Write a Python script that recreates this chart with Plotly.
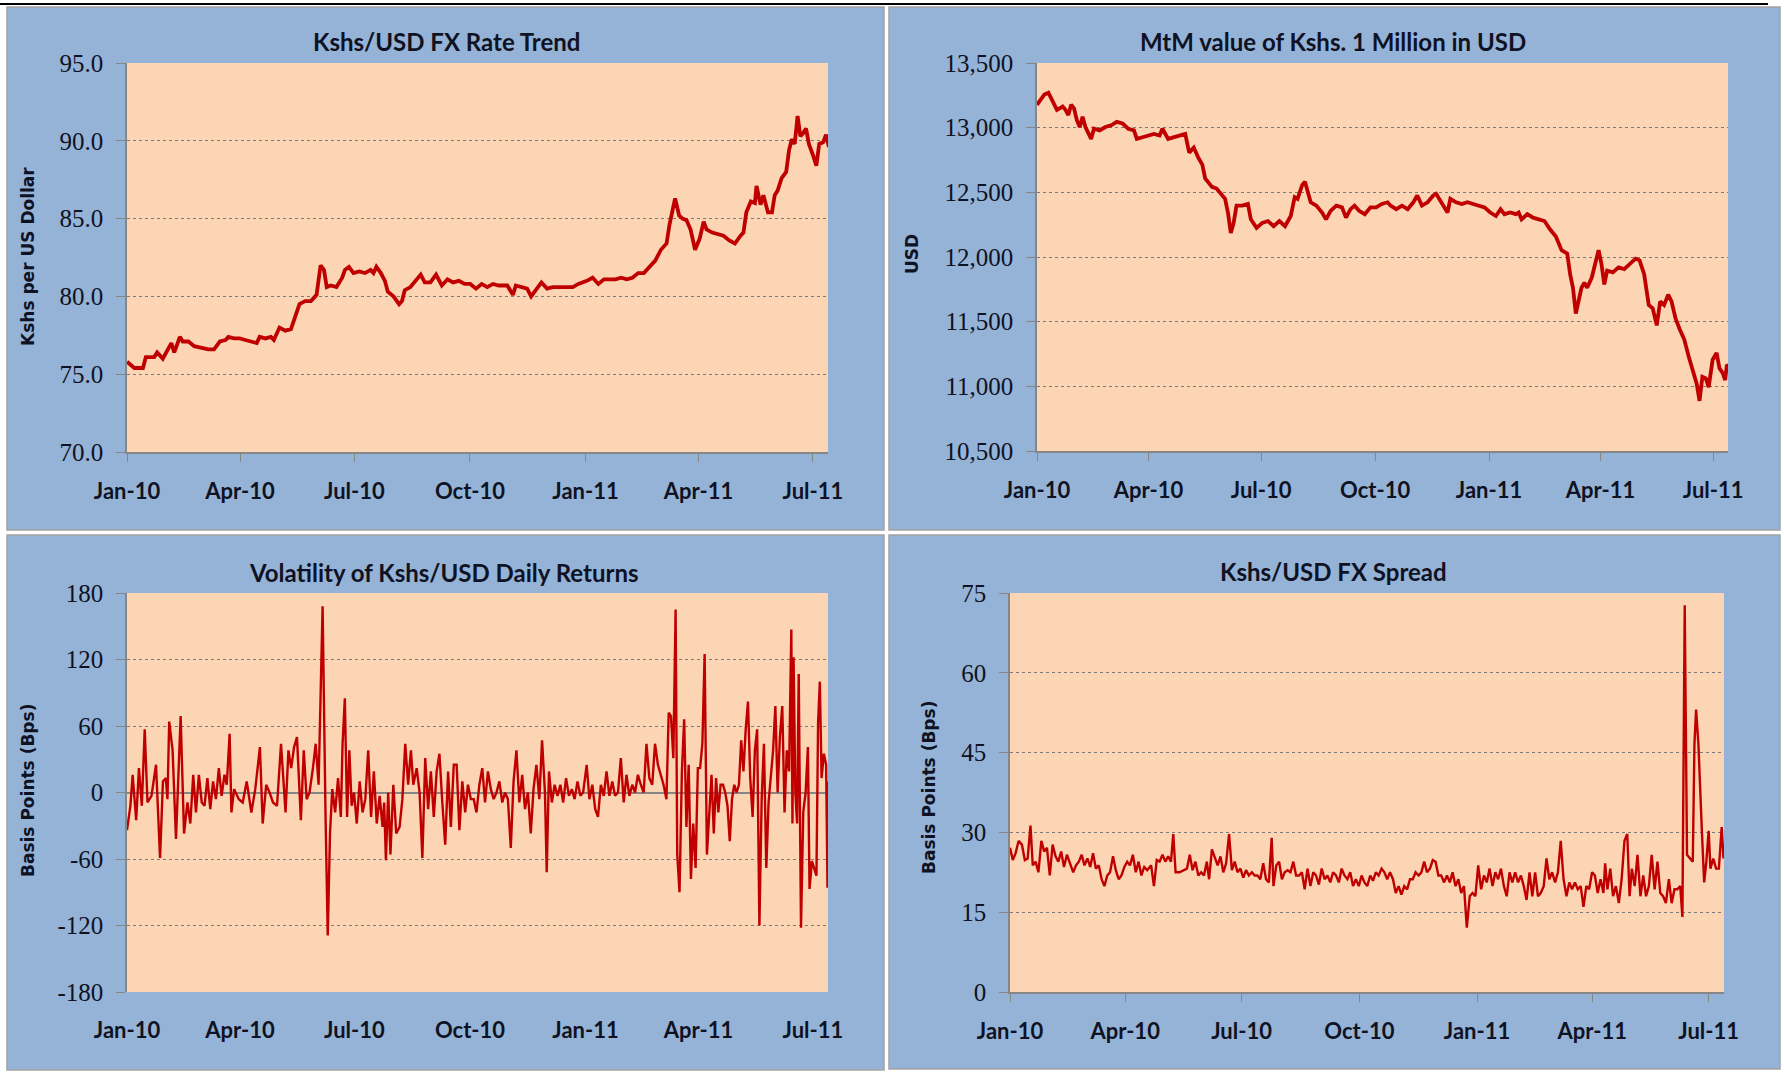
import plotly.graph_objects as go
from datetime import datetime, timedelta

# ---------------- data (days counted from 2010-01-01) ----------------
BASE = datetime(2010, 1, 1)

rate_day = [0, 5.9, 12.7, 15.0, 21.7, 24.0, 28.5, 33.1, 35.3, 37.6,
            42.1, 44.4, 48.9, 53.5, 58.0, 64.8, 69.3, 73.9, 78.4, 80.7,
            85.2, 89.7, 94.2, 98.8, 103.3, 105.6, 110.1, 114.6, 116.9, 121.4,
            126.0, 130.5, 132.8, 135.0, 137.3, 141.8, 146.4, 150.9, 154.1, 156.8,
            159.0, 162.2, 166.7, 171.3, 173.5, 176.7, 180.3, 184.9, 189.4, 193.9,
            196.2, 198.5, 202.1, 205.3, 207.6, 212.1, 216.6, 218.9, 221.1, 225.6,
            230.2, 233.8, 237.0, 241.5, 246.0, 250.6, 255.1, 259.6, 264.2, 268.7,
            273.2, 277.8, 282.3, 286.8, 291.3, 295.9, 302.7, 307.2, 309.5, 314.0,
            318.5, 321.7, 325.3, 329.9, 334.4, 338.9, 345.7, 350.2, 354.8, 359.3,
            366.1, 370.6, 375.2, 379.7, 384.2, 388.8, 393.3, 397.8, 402.3, 406.9,
            411.4, 415.9, 420.5, 425.0, 429.5, 431.8, 434.1, 436.3, 439.5, 442.2,
            445.4, 448.6, 452.2, 455.8, 459.0, 461.3, 465.8, 470.3, 474.8, 479.4,
            483.9, 488.4, 490.7, 493.0, 496.6, 499.8, 501.1, 504.3, 506.6, 510.2,
            513.4, 515.6, 517.9, 521.1, 524.7, 527.0, 529.2, 531.5, 533.8, 536.0,
            538.3, 540.5, 542.8, 546.4, 548.7, 551.0, 554.1, 556.4, 558.7]
rate_val = [75.8, 75.4, 75.4, 76.1, 76.1, 76.4, 76.0, 76.6, 77.0, 76.4,
            77.4, 77.1, 77.1, 76.8, 76.7, 76.6, 76.6, 77.1, 77.2, 77.4,
            77.3, 77.3, 77.2, 77.1, 77.0, 77.4, 77.3, 77.4, 77.2, 78.0,
            77.8, 77.9, 78.4, 78.9, 79.5, 79.7, 79.7, 80.1, 82.0, 81.7,
            80.6, 80.7, 80.6, 81.2, 81.7, 81.9, 81.5, 81.6, 81.5, 81.7,
            81.5, 81.9, 81.5, 81.0, 80.3, 80.0, 79.5, 79.7, 80.4, 80.6,
            81.0, 81.4, 80.9, 80.9, 81.4, 80.7, 81.1, 80.9, 81.0, 80.8,
            80.8, 80.5, 80.8, 80.6, 80.8, 80.7, 80.7, 80.1, 80.7, 80.6,
            80.5, 80.0, 80.4, 80.9, 80.5, 80.6, 80.6, 80.6, 80.6, 80.8,
            81.0, 81.2, 80.8, 81.1, 81.1, 81.1, 81.2, 81.1, 81.2, 81.5,
            81.5, 81.9, 82.3, 83.0, 83.4, 84.6, 85.4, 86.3, 85.2, 85.0,
            84.9, 84.3, 83.0, 83.7, 84.8, 84.3, 84.1, 84.0, 83.9, 83.6,
            83.4, 83.9, 84.1, 85.4, 86.1, 86.0, 87.1, 85.9, 86.5, 85.4,
            85.4, 86.5, 86.8, 87.6, 88.0, 89.4, 90.1, 89.8, 91.6, 90.3,
            90.5, 90.8, 89.8, 89.0, 88.4, 89.8, 89.9, 90.4, 89.6]

mtm_day = [0, 3.2, 6.0, 9.2, 11.5, 13.8, 16.1, 18.4, 20.7, 23.0,
           25.3, 27.6, 29.9, 32.2, 34.5, 36.8, 39.1, 43.7, 46.0, 50.6,
           55.2, 59.9, 64.5, 69.1, 73.7, 78.3, 80.6, 85.2, 89.8, 94.4,
           99.0, 101.3, 105.9, 110.5, 115.1, 119.7, 122.9, 126.6, 130.3, 133.5,
           135.8, 138.1, 141.3, 145.0, 148.7, 151.9, 154.2, 156.5, 158.8, 161.1,
           165.7, 170.3, 172.7, 177.3, 181.9, 186.5, 191.1, 195.7, 200.3, 204.9,
           208.1, 210.4, 214.1, 216.4, 218.7, 221.0, 225.6, 230.2, 233.4, 237.1,
           241.7, 246.3, 249.5, 253.2, 256.4, 260.1, 264.7, 269.3, 273.9, 278.5,
           283.1, 285.5, 290.1, 294.7, 299.3, 303.9, 307.1, 310.8, 315.4, 320.0,
           322.3, 326.9, 331.5, 333.8, 338.4, 343.0, 347.6, 352.2, 356.8, 361.4,
           366.0, 370.6, 374.3, 377.5, 382.1, 386.7, 389.0, 391.3, 395.9, 400.6,
           405.2, 409.8, 414.4, 419.0, 423.6, 428.2, 430.5, 432.8, 435.1, 437.4,
           439.7, 442.0, 444.3, 448.0, 451.2, 453.5, 455.8, 458.1, 460.4, 465.0,
           469.6, 474.2, 478.8, 483.4, 486.6, 490.3, 494.0, 497.2, 500.5, 503.2,
           506.4, 509.7, 512.4, 515.7, 518.9, 522.6, 526.2, 529.5, 532.7, 535.0,
           537.3, 540.1, 542.4, 545.6, 548.8, 551.1, 553.9, 555.7, 557.1, 558.5]
mtm_val = [13177, 13217, 13257, 13270, 13230, 13190, 13138, 13150, 13164, 13138,
           13098, 13177, 13150, 13058, 13005, 13085, 13005, 12913, 12992, 12979,
           13005, 13018, 13045, 13032, 12992, 12979, 12913, 12926, 12939, 12952,
           12939, 12992, 12913, 12926, 12939, 12952, 12807, 12846, 12767, 12714,
           12608, 12582, 12542, 12529, 12489, 12450, 12344, 12185, 12264, 12397,
           12397, 12410, 12291, 12225, 12264, 12278, 12238, 12278, 12238, 12317,
           12463, 12450, 12555, 12582, 12503, 12423, 12397, 12344, 12291, 12357,
           12397, 12384, 12304, 12370, 12397, 12357, 12331, 12384, 12384, 12410,
           12423, 12397, 12370, 12397, 12370, 12423, 12476, 12397, 12423, 12476,
           12489, 12423, 12344, 12450, 12423, 12410, 12423, 12410, 12397, 12384,
           12344, 12317, 12370, 12331, 12344, 12331, 12344, 12291, 12331, 12304,
           12291, 12278, 12212, 12159, 12053, 12026, 11867, 11762, 11563, 11682,
           11762, 11801, 11762, 11841, 11974, 12053, 11947, 11788, 11894, 11881,
           11920, 11907, 11947, 11987, 11974, 11867, 11629, 11603, 11471, 11656,
           11629, 11709, 11656, 11523, 11444, 11365, 11232, 11127, 11021, 10888,
           11074, 11061, 10994, 11206, 11259, 11140, 11100, 11048, 11167, 11153]

vol_day = [0, 2.7, 4.5, 7.3, 9.5, 11.8, 14.1, 16.3, 19.5, 23.1,
           26.3, 28.6, 30.9, 32.2, 33.6, 36.3, 39.0, 42.7, 45.4, 48.1,
           50.4, 52.7, 54.9, 57.2, 59.5, 61.7, 64.0, 66.3, 68.5, 70.8,
           73.1, 75.3, 77.6, 79.4, 81.7, 83.1, 85.3, 89.0, 92.1, 95.3,
           99.0, 102.1, 105.8, 108.0, 110.8, 113.5, 116.2, 119.4, 122.6, 126.2,
           128.5, 130.7, 133.0, 135.3, 138.4, 140.7, 143.0, 145.3, 148.0, 150.2,
           152.5, 155.7, 158.0, 159.8, 161.6, 163.4, 165.7, 168.0, 170.2, 171.6,
           173.4, 175.2, 177.0, 178.8, 180.7, 182.9, 185.2, 187.5, 189.7, 192.0,
           194.3, 196.5, 198.8, 201.1, 203.4, 204.7, 206.1, 207.9, 209.7, 212.0,
           214.3, 217.0, 219.2, 221.5, 223.8, 226.0, 227.9, 230.6, 232.9, 235.1,
           237.4, 239.7, 241.9, 244.2, 246.5, 248.7, 251.0, 253.3, 255.6, 257.8,
           260.1, 262.4, 264.6, 266.9, 269.2, 271.4, 273.7, 276.0, 278.2, 280.5,
           282.8, 285.0, 287.3, 289.6, 291.9, 294.1, 296.4, 298.7, 300.9, 303.2,
           305.5, 307.7, 310.0, 312.3, 314.6, 316.8, 319.1, 321.4, 323.6, 325.9,
           328.2, 330.4, 332.7, 334.1, 335.9, 338.2, 340.4, 342.7, 345.0, 347.2,
           349.5, 351.8, 354.1, 356.3, 358.6, 360.9, 363.1, 365.9, 368.1, 370.4,
           372.7, 374.9, 377.2, 379.5, 381.7, 384.0, 386.3, 388.5, 390.8, 393.1,
           395.4, 397.6, 399.9, 402.2, 404.4, 406.7, 409.0, 411.3, 413.5, 415.8,
           418.1, 420.3, 422.6, 424.9, 427.1, 429.4, 431.2, 433.0, 434.9, 436.7,
           438.0, 439.8, 441.7, 443.5, 445.3, 447.1, 448.9, 450.7, 452.6, 454.4,
           456.2, 458.0, 459.8, 461.6, 463.5, 465.3, 467.1, 468.9, 470.7, 472.5,
           474.4, 476.2, 478.0, 479.8, 481.6, 483.4, 485.2, 487.1, 488.9, 490.7,
           492.5, 494.3, 496.1, 498.0, 499.8, 501.6, 503.4, 505.2, 507.0, 508.9,
           510.7, 512.5, 514.3, 516.1, 517.9, 519.7, 521.6, 523.4, 525.2, 527.0,
           528.8, 529.7, 530.6, 532.0, 533.4, 534.7, 536.5, 538.3, 540.2, 542.0,
           543.3, 545.2, 547.0, 548.8, 550.1, 551.5, 552.9, 554.7, 556.5, 557.6,
           558.5]
vol_val = [-34, -12, 16, -25, 22, -12, 57, -9, -3, 25,
           -59, 10, 13, -6, 64, 38, -42, 69, -37, -9,
           -28, 16, -18, 16, -9, -12, 13, -15, 10, -6,
           22, -3, 16, 7, 53, -18, 3, -6, -9, 10,
           -18, 3, 41, -28, 7, 0, -9, -12, 44, -18,
           38, 22, 41, 50, -25, 38, -6, 0, 22, 44,
           7, 168, -18, -129, -37, 3, -18, 13, -22, 44,
           85, -22, 38, -12, 0, -28, 10, -18, -6, 38,
           -22, 19, -28, -3, -31, -9, -61, 0, -56, 7,
           -37, -31, -6, 44, 7, 38, 7, 22, 0, -59,
           31, -15, 19, -22, 19, 35, -9, -47, 19, -31,
           25, 25, -34, 10, -18, 7, -6, -6, -18, 7,
           22, -9, 19, 3, -6, 0, 10, -9, 0, -6,
           -50, 10, 38, -9, 16, -15, 0, -37, 3, 25,
           -6, 47, 0, -72, 19, -9, 7, -3, 7, -9,
           13, -3, 3, -6, 10, -3, 0, 25, -6, 7,
           -15, -22, 7, -3, 19, -3, 10, -3, 0, 31,
           -9, 16, -3, 7, 0, 16, 7, 0, 44, 13,
           7, 44, 25, 16, 7, -6, 72, 69, 31, 165,
           -56, -90, 19, 66, -31, 25, -78, -28, -68, 22,
           22, 44, 125, -56, -22, 16, -37, 13, -18, 7,
           7, 0, -12, -44, -6, 7, 0, 7, 47, 19,
           57, 82, 13, -22, 38, 57, -120, -6, 44, -68,
           -9, 13, 38, 78, 0, 50, 78, -18, 38, 19,
           147, -28, 122, 0, -28, 107, -122, -18, 0, 41,
           -87, -62, -68, -75, 63, 100, 13, 35, 25, -86,
           10]

spread_day = [0, 2.2, 4.4, 6.7, 9.3, 11.6, 13.8, 16.0, 17.8, 20.0,
              22.2, 24.5, 26.7, 28.9, 31.1, 33.3, 35.6, 37.8, 40.0, 42.2,
              44.5, 46.7, 49.4, 51.6, 53.8, 56.0, 58.2, 60.5, 62.7, 64.9,
              67.1, 69.4, 71.6, 73.8, 76.0, 78.2, 80.5, 82.7, 84.9, 87.1,
              89.4, 91.6, 93.8, 96.0, 98.3, 100.5, 102.7, 104.9, 107.2, 110.3,
              112.5, 114.7, 116.9, 119.2, 121.4, 123.6, 125.8, 127.6, 129.4, 132.5,
              135.6, 138.3, 140.5, 142.7, 144.9, 147.2, 149.4, 151.6, 153.8, 155.6,
              157.8, 160.1, 162.3, 164.5, 166.7, 168.9, 171.2, 173.4, 175.6, 177.8,
              180.1, 182.3, 184.5, 186.7, 189.0, 191.2, 193.4, 195.6, 197.9, 200.1,
              202.3, 204.5, 205.9, 208.1, 210.3, 212.5, 214.7, 217.0, 219.2, 221.4,
              223.6, 225.9, 228.1, 230.3, 232.5, 234.8, 237.0, 239.2, 241.4, 243.6,
              245.9, 248.1, 250.3, 252.5, 254.8, 257.0, 259.2, 261.4, 263.7, 265.9,
              268.1, 270.3, 272.6, 274.8, 277.0, 279.2, 281.5, 283.7, 285.9, 288.1,
              290.4, 292.6, 294.8, 297.0, 299.3, 301.5, 303.7, 305.9, 308.1, 310.4,
              312.6, 314.8, 317.0, 319.3, 321.5, 323.7, 325.9, 328.2, 330.4, 332.6,
              334.8, 337.0, 339.3, 341.5, 343.7, 345.9, 348.2, 350.4, 352.6, 354.8,
              357.0, 359.3, 361.5, 363.7, 365.9, 368.2, 370.4, 372.6, 374.8, 377.1,
              379.3, 381.5, 383.7, 386.0, 388.2, 390.4, 392.6, 394.8, 397.1, 399.3,
              401.5, 403.7, 406.0, 408.2, 410.4, 412.6, 414.8, 417.1, 419.3, 421.5,
              423.7, 426.0, 428.2, 430.4, 432.6, 434.9, 437.1, 439.3, 441.5, 443.7,
              446.0, 448.2, 450.4, 452.6, 454.9, 457.1, 459.3, 461.5, 463.8, 465.1,
              466.9, 469.1, 471.3, 473.5, 475.8, 478.0, 480.2, 482.4, 484.2, 486.0,
              488.2, 490.4, 492.7, 494.9, 497.1, 499.3, 501.5, 503.8, 506.0, 508.2,
              510.4, 512.6, 514.9, 517.1, 519.3, 521.5, 523.8, 525.5, 527.3, 529.1,
              531.3, 533.6, 534.9, 536.2, 538.0, 539.3, 540.7, 542.5, 544.2, 546.0,
              547.4, 549.6, 551.8, 554.0, 556.2, 557.6]
spread_val = [27.1, 24.8, 26.1, 28.4, 27.7, 24.8, 25.1, 31.3, 23.8, 24.5,
              22.5, 28.4, 26.4, 27.1, 21.9, 27.7, 25.5, 24.5, 26.4, 23.5,
              25.8, 24.2, 22.5, 23.8, 24.5, 25.8, 23.8, 25.1, 23.5, 26.1,
              23.2, 23.8, 21.2, 19.9, 21.9, 22.5, 25.5, 22.9, 21.2, 21.9,
              23.5, 24.5, 23.8, 25.8, 22.5, 24.5, 21.9, 23.5, 22.9, 23.8,
              19.9, 24.8, 24.5, 25.8, 24.5, 25.5, 24.5, 29.7, 22.5, 22.5,
              22.9, 23.2, 25.8, 22.9, 24.5, 21.9, 22.5, 21.9, 24.5, 21.2,
              26.8, 25.1, 23.8, 25.5, 22.5, 24.2, 29.7, 22.9, 24.5, 22.5,
              23.2, 21.5, 22.9, 21.9, 22.5, 21.9, 21.9, 21.2, 24.2, 21.2,
              20.6, 29.0, 19.9, 23.8, 24.5, 21.2, 22.5, 22.9, 22.5, 24.5,
              21.9, 21.9, 22.5, 19.3, 23.2, 19.9, 22.5, 21.9, 20.2, 23.2,
              21.2, 21.9, 20.6, 22.5, 21.9, 20.6, 23.2, 21.9, 21.2, 22.5,
              19.9, 21.2, 19.9, 21.9, 20.6, 19.9, 21.9, 20.9, 22.5, 21.9,
              23.2, 22.5, 21.2, 22.5, 21.2, 18.6, 19.9, 18.3, 19.9, 19.3,
              21.2, 21.2, 22.5, 21.9, 22.5, 24.5, 22.5, 23.2, 24.8, 24.5,
              21.9, 21.9, 20.6, 21.9, 20.6, 22.5, 19.9, 21.2, 18.6, 19.9,
              12.1, 18.0, 18.6, 18.0, 23.8, 19.3, 21.9, 20.6, 23.2, 19.9,
              22.5, 21.2, 23.2, 19.9, 18.0, 22.5, 20.6, 22.5, 20.6, 21.9,
              19.9, 17.3, 22.5, 18.0, 22.5, 18.0, 18.6, 19.9, 25.1, 21.2,
              22.5, 20.6, 22.5, 28.4, 21.2, 18.0, 20.6, 19.3, 20.6, 19.3,
              19.9, 16.0, 19.9, 19.3, 22.5, 21.9, 18.6, 21.2, 18.6, 24.2,
              19.3, 23.2, 18.0, 19.9, 16.7, 21.2, 28.4, 29.7, 18.0, 23.2,
              19.9, 25.8, 18.0, 21.9, 18.0, 19.9, 25.8, 19.3, 24.5, 18.6,
              18.0, 16.7, 21.2, 16.7, 19.3, 19.3, 19.9, 14.1, 72.7, 25.8,
              25.1, 24.5, 46.6, 53.1, 46.6, 37.5, 30.3, 20.6, 24.5, 30.3,
              23.2, 25.1, 23.2, 23.2, 31.0, 25.1]

titles = ["Kshs/USD FX Rate Trend", "MtM value of Kshs. 1 Million in USD",
          "Volatility of Kshs/USD Daily Returns", "Kshs/USD FX Spread"]
ytitles = ["Kshs per US Dollar", "USD", "Basis Points (Bps)", "Basis Points (Bps)"]

y1_ticks = [70, 75, 80, 85, 90, 95]
y2_ticks = [10500, 11000, 11500, 12000, 12500, 13000, 13500]
y3_ticks = [-180, -120, -60, 0, 60, 120, 180]
y4_ticks = [0, 15, 30, 45, 60, 75]
x_ticks = ["2010-01-01", "2010-04-01", "2010-07-01", "2010-10-01",
           "2011-01-01", "2011-04-01", "2011-07-01"]
x_ticktext = ["Jan-10", "Apr-10", "Jul-10", "Oct-10", "Jan-11", "Apr-11", "Jul-11"]
x_range = ["2010-01-01", "2011-07-13"]

series = [(rate_day, rate_val), (mtm_day, mtm_val), (vol_day, vol_val), (spread_day, spread_val)]
for d, v in series:
    assert len(d) == len(v), (len(d), len(v))

def to_dates(days):
    return [BASE + timedelta(days=x) for x in days]

# ---------------- layout geometry (pixels) ----------------
W, H = 1784, 1072
panel_px = [(7, 7, 884, 530), (889, 7, 1780, 530), (7, 535, 884, 1070), (889, 535, 1780, 1069)]
plot_px = [(127, 63, 828, 452), (1037, 63, 1728, 451), (127, 593, 828, 992), (1010, 593, 1724, 992)]
title_px = [(446, 41), (1333, 41), (444, 572), (1333, 571)]
ytitle_px = [(28, 257), (912, 254), (28, 791), (929, 788)]

fx = lambda x: x / W
fy = lambda y: 1 - y / H

RED = "#C00000"
GRID = "#7a7a7a"
AX = "#868686"
TXT = "#0f1222"
BLUE = "#95B3D7"
PEACH = "#FCD5B4"

fig = go.Figure()
widths = [3.8, 3.8, 2.4, 2.4]
for i, (d, v) in enumerate(series):
    n = i + 1
    fig.add_trace(go.Scatter(x=to_dates(d), y=v, mode="lines",
                             line=dict(color=RED, width=widths[i]),
                             xaxis=f"x{n}" if n > 1 else "x",
                             yaxis=f"y{n}" if n > 1 else "y",
                             showlegend=False, hoverinfo="skip"))

shapes = []
shapes.append(dict(type="line", xref="paper", yref="paper", x0=fx(0), x1=fx(1768),
                   y0=fy(4), y1=fy(4), line=dict(color="black", width=2), layer="below"))
for (x0, y0, x1, y1) in panel_px:
    shapes.append(dict(type="rect", xref="paper", yref="paper", x0=fx(x0), x1=fx(x1),
                       y0=fy(y1), y1=fy(y0), fillcolor=BLUE,
                       line=dict(color="#a3a3a3", width=1.5), layer="below"))
for (x0, y0, x1, y1) in plot_px:
    shapes.append(dict(type="rect", xref="paper", yref="paper", x0=fx(x0), x1=fx(x1),
                       y0=fy(y1), y1=fy(y0), fillcolor=PEACH, line=dict(width=0), layer="below"))

annotations = []
for (cx, cy), t in zip(title_px, titles):
    annotations.append(dict(text=t, x=fx(cx), y=fy(cy), xref="paper", yref="paper",
                            showarrow=False, xanchor="center", yanchor="middle",
                            font=dict(family="Lato", size=24, color=TXT, weight="bold")))
for (cx, cy), t in zip(ytitle_px, ytitles):
    annotations.append(dict(text=t, x=fx(cx), y=fy(cy), xref="paper", yref="paper",
                            showarrow=False, xanchor="center", yanchor="middle", textangle=-90,
                            font=dict(family="DejaVu Sans", size=17, color=TXT, weight="bold")))

layout = dict(width=W, height=H, margin=dict(l=0, r=0, t=0, b=0, pad=0, autoexpand=False),
              paper_bgcolor="white", plot_bgcolor="rgba(0,0,0,0)",
              shapes=shapes, annotations=annotations, showlegend=False)

yticks = [y1_ticks, y2_ticks, y3_ticks, y4_ticks]
ytext = [[f"{t:.1f}" for t in y1_ticks], [f"{t:,}" for t in y2_ticks],
         [str(t) for t in y3_ticks], [str(t) for t in y4_ticks]]

for i, (x0, y0, x1, y1) in enumerate(plot_px):
    n = i + 1
    xk = "xaxis" if n == 1 else f"xaxis{n}"
    yk = "yaxis" if n == 1 else f"yaxis{n}"
    is_vol = (n == 3)
    layout[xk] = dict(domain=[fx(x0), fx(x1)], anchor="y" if n == 1 else f"y{n}",
                      type="date", range=x_range, tickvals=x_ticks, ticktext=x_ticktext,
                      ticks="outside", ticklen=8,
                      tickcolor="rgba(0,0,0,0)" if is_vol else AX, tickwidth=1,
                      showline=not is_vol, linecolor=AX, linewidth=1.5, showgrid=False,
                      zeroline=False, ticklabelstandoff=11, automargin=False,
                      tickfont=dict(family="Lato", size=22, color=TXT, weight="bold"))
    tv = yticks[i]
    layout[yk] = dict(domain=[fy(y1), fy(y0)], anchor="x" if n == 1 else f"x{n}",
                      range=[tv[0], tv[-1]], tickvals=tv, ticktext=ytext[i],
                      ticks="outside", ticklen=9, tickcolor=AX, tickwidth=1,
                      showline=True, linecolor=AX, linewidth=1.5,
                      showgrid=True, gridcolor=GRID, griddash="dot", gridwidth=1,
                      zeroline=is_vol, zerolinecolor=AX, zerolinewidth=1.5,
                      ticklabelstandoff=8, automargin=False,
                      tickfont=dict(family="Liberation Serif", size=25, color=TXT))

fig.update_layout(**layout)

fig.write_html("out.html", config={"displayModeBar": False},
               post_script="document.body.style.margin='0';document.body.style.overflow='hidden';")
